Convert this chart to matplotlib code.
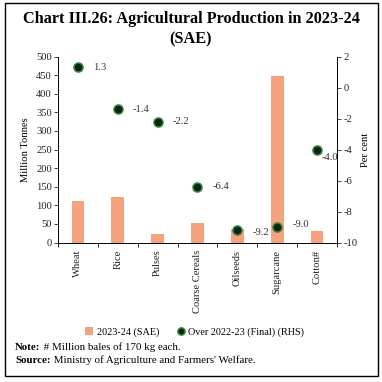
import matplotlib
matplotlib.use("Agg")
import matplotlib.pyplot as plt
import numpy as np
from matplotlib.patches import Rectangle

plt.rcParams['font.family'] = ['Liberation Serif', 'DejaVu Serif']
plt.rcParams['axes.unicode_minus'] = False

crops = ['Wheat', 'Rice', 'Pulses', 'Coarse Cereals', 'Oilseeds', 'Sugarcane', 'Cotton#']
production = [112.0, 123.8, 23.4, 52.0, 36.6, 446.4, 32.3]   # million tonnes (cotton: million bales)
growth = [1.3, -1.4, -2.2, -6.4, -9.2, -9.0, -4.0]            # per cent over 2022-23 (Final)
growth_labels = ['1.3', '-1.4', '-2.2', '-6.4', '-9.2', '-9.0', '-4.0']
# label offsets (points) for the dot labels
label_offsets = [(11, 0), (11, 0), (11, 0), (11, 0), (11, -2), (11, 2), (3, -6)]

bar_color = '#F7A27F'
dot_face = '#141f17'
dot_edge = '#2e8b3a'
fs = 7.6

fig = plt.figure(figsize=(3.82, 3.82), dpi=100)

# outer frame
fig.patches.append(Rectangle((0.012, 0.016), 0.978, 0.975, transform=fig.transFigure,
                             fill=False, edgecolor='black', linewidth=1.0))

fig.text(0.5, 0.950, 'Chart III.26: Agricultural Production in 2023-24', ha='center', va='center',
         fontsize=11.7, fontweight='bold')
fig.text(0.5, 0.898, '(SAE)', ha='center', va='center', fontsize=11.7, fontweight='bold')

ax = fig.add_axes([0.152, 0.365, 0.730, 0.487])
x = np.arange(len(crops))
bars = ax.bar(x, production, width=0.32, color=bar_color, label='2023-24 (SAE)', zorder=2)
ax.set_ylim(0, 500)
ax.set_yticks(np.arange(0, 501, 50))
ax.set_xlim(-0.5, len(crops) - 0.5)
ax.set_xticks(x)
ax.set_xticklabels(crops, rotation=90, fontsize=fs, color='#222222')
ax.tick_params(axis='x', length=0, pad=5)
ax.set_xticks(np.arange(-0.5, len(crops), 1), minor=True)
ax.tick_params(axis='x', which='minor', length=3, width=0.6)
ax.tick_params(axis='y', labelsize=fs, length=3, width=0.6, pad=1.5, colors='#222222')
ax.set_ylabel('Million Tonnes', fontsize=fs, labelpad=4)
ax.spines['top'].set_visible(False)
ax.spines['right'].set_visible(False)
for s in ['left', 'bottom']:
    ax.spines[s].set_linewidth(0.7)

ax2 = ax.twinx()
dots, = ax2.plot(x, growth, 'o', markersize=6.5, markerfacecolor=dot_face, markeredgecolor=dot_edge,
                 markeredgewidth=1.1, linestyle='none', label='Over 2022-23 (Final) (RHS)', zorder=3)
ax2.set_ylim(-10, 2)
ax2.set_yticks(np.arange(-10, 3, 2))
ax2.tick_params(axis='y', labelsize=fs, length=3, width=0.6, pad=1.5, colors='#222222')
ax2.set_ylabel('Per cent', fontsize=fs, labelpad=3)
ax2.spines['top'].set_visible(False)
ax2.spines['left'].set_visible(False)
ax2.spines['bottom'].set_visible(False)
ax2.spines['right'].set_linewidth(0.7)
for xi, g, lab, off in zip(x, growth, growth_labels, label_offsets):
    ax2.annotate(lab, (xi, g), xytext=off, textcoords='offset points', ha='left', va='center',
                 fontsize=fs, color='#333333')

fig.legend(handles=[bars, dots], loc='center', bbox_to_anchor=(0.51, 0.131), ncol=2, frameon=False,
           fontsize=7.3, handlelength=0.8, handletextpad=0.3, columnspacing=1.8, markerscale=0.8)

# footnotes: bold lead-in word, then plain text right after it
notes = [('Note:', ' # Million bales of 170 kg each.', 0.083),
         ('Source:', ' Ministry of Agriculture and Farmers\' Welfare.', 0.049)]
leads = [fig.text(0.04, yy, lead, fontsize=7.8, fontweight='bold', va='baseline') for lead, _, yy in notes]
fig.canvas.draw()
r = fig.canvas.get_renderer()
inv = fig.transFigure.inverted()
for t, (_, rest, yy) in zip(leads, notes):
    bb = t.get_window_extent(r)
    fig.text(inv.transform((bb.x1, bb.y0))[0], yy, rest, fontsize=7.8, va='baseline')

fig.savefig('out.png', dpi=100)
